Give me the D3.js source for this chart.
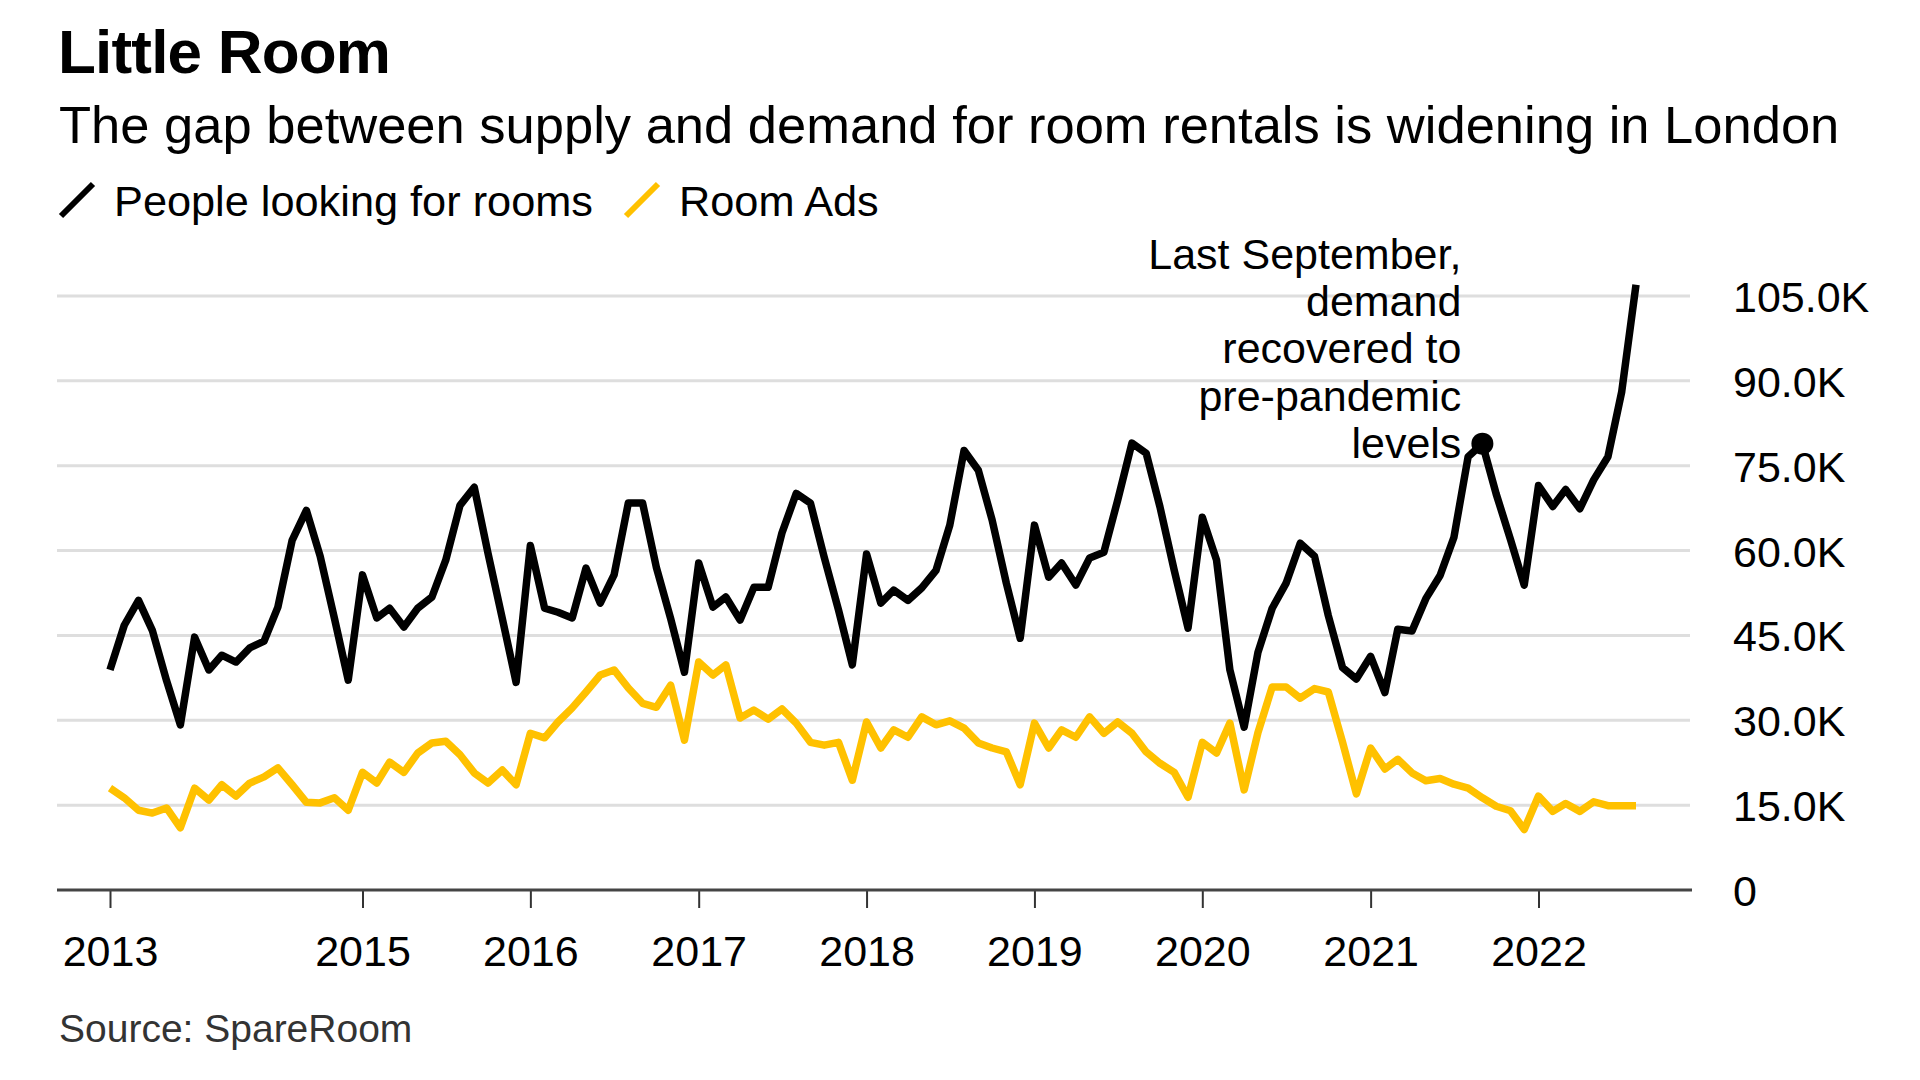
<!DOCTYPE html>
<html>
<head>
<meta charset="utf-8">
<script src="https://cdn.jsdelivr.net/npm/d3@7"></script>
<style>
  html, body { margin: 0; padding: 0; background: #fff; }
  svg { display: block; font-family: "Liberation Sans", Arial, Helvetica, sans-serif; }
</style>
</head>
<body>
<svg id="chart" width="1920" height="1080"></svg>
<script>
// ---------- DATA (monthly, Jul 2013 – Aug 2022) ----------
const startMonth = "2013-07";
const peopleLooking = [
  // 2013 Jul-Dec
  38.9, 46.8, 51.2, 45.9, 37.0, 29.2,
  // 2014
  44.7, 38.9, 41.5, 40.3, 42.8, 44.0, 50.0, 61.8, 67.1, 59.0, 48.0, 37.1,
  // 2015
  55.7, 48.1, 49.8, 46.5, 49.8, 51.8, 58.3, 68.0, 71.2, 59.5, 48.0, 36.7,
  // 2016
  60.9, 49.8, 49.1, 48.1, 56.9, 50.7, 55.7, 68.4, 68.4, 57.0, 48.0, 38.5,
  // 2017
  57.8, 50.0, 51.8, 47.7, 53.5, 53.5, 63.1, 70.1, 68.4, 58.8, 49.5, 39.8,
  // 2018
  59.4, 50.7, 53.0, 51.2, 53.4, 56.5, 64.5, 77.7, 74.2, 65.4, 54.2, 44.5,
  // 2019
  64.5, 55.3, 57.8, 53.9, 58.7, 59.7, 68.9, 79.0, 77.2, 67.7, 56.5, 46.3,
  // 2020
  65.9, 58.3, 38.9, 28.8, 42.0, 49.8, 54.2, 61.3, 59.0, 48.5, 39.3, 37.3,
  // 2021
  41.3, 34.9, 46.1, 45.8, 51.5, 55.6, 62.3, 76.6, 78.9, 70.0, 62.0, 53.9,
  // 2022 Jan-Aug
  71.5, 67.8, 70.8, 67.4, 72.5, 76.6, 88.1, 107.0
];
const roomAds = [
  // 2013 Jul-Dec
  18.0, 16.3, 14.1, 13.6, 14.5, 11.0,
  // 2014
  18.0, 15.9, 18.6, 16.6, 18.9, 20.0, 21.6, 18.6, 15.5, 15.4, 16.3, 14.1,
  // 2015
  20.8, 18.9, 22.6, 20.8, 24.2, 26.0, 26.3, 23.9, 20.7, 18.9, 21.2, 18.6,
  // 2016
  27.7, 26.9, 29.7, 32.2, 35.0, 38.0, 38.9, 35.7, 33.0, 32.3, 36.2, 26.5,
  // 2017
  40.3, 38.0, 39.8, 30.4, 31.8, 30.2, 32.0, 29.5, 26.1, 25.6, 26.1, 19.4,
  // 2018
  29.7, 25.1, 28.3, 27.0, 30.6, 29.2, 29.9, 28.6, 26.0, 25.1, 24.4, 18.6,
  // 2019
  29.5, 25.1, 28.3, 27.0, 30.6, 27.7, 29.7, 27.7, 24.4, 22.4, 20.8, 16.4,
  // 2020
  26.1, 24.2, 29.5, 17.7, 27.8, 35.9, 35.9, 33.9, 35.6, 35.0, 26.1, 17.0,
  // 2021
  25.1, 21.4, 23.1, 20.7, 19.3, 19.7, 18.7, 18.0, 16.3, 14.8, 14.0, 10.7,
  // 2022 Jan-Aug
  16.6, 13.9, 15.3, 13.9, 15.6, 14.9, 14.9, 14.9
];
const seriesNames = ["People looking for rooms", "Room Ads"];
const xTickDates = ["2013-07", "2015-01", "2016-01", "2017-01", "2018-01", "2019-01", "2020-01", "2021-01", "2022-01"];
const xTickLabels = ["2013", "2015", "2016", "2017", "2018", "2019", "2020", "2021", "2022"];
const yTickValues = [0, 15, 30, 45, 60, 75, 90, 105];
const yTickLabels = ["0", "15.0K", "30.0K", "45.0K", "60.0K", "75.0K", "90.0K", "105.0K"];
const annotationDate = "2021-09";
const annotationLines = ["Last September,", "demand", "recovered to", "pre-pandemic", "levels"];
const titleText = "Little Room";
const subtitleText = "The gap between supply and demand for room rentals is widening in London";
const sourceText = "Source: SpareRoom";

// ---------- SETUP ----------
const parseMonth = d3.timeParse("%Y-%m");
const start = parseMonth(startMonth);
const dates = peopleLooking.map((_, i) => d3.timeMonth.offset(start, i));

const svg = d3.select("#chart");
const colors = { people: "#000000", ads: "#ffc100" };

const plotLeft = 57, plotRight = 1690;
const x = d3.scaleTime()
  .domain([dates[0], dates[dates.length - 1]])
  .range([110, 1636]);
const y = d3.scaleLinear().domain([0, 105]).range([890, 296]);

// Titles
svg.append("text").attr("x", 58).attr("y", 73)
  .attr("font-size", 62).attr("font-weight", 700).attr("letter-spacing", -0.8)
  .attr("fill", "#000").text(titleText);
svg.append("text").attr("x", 59).attr("y", 143)
  .attr("font-size", 52.5).attr("fill", "#000").text(subtitleText);

// Legend
const legend = svg.append("g");
const legendItems = [
  { name: seriesNames[0], color: colors.people, x: 61 },
  { name: seriesNames[1], color: colors.ads, x: 626 }
];
legendItems.forEach(it => {
  legend.append("line")
    .attr("x1", it.x).attr("y1", 216).attr("x2", it.x + 32).attr("y2", 184)
    .attr("stroke", it.color).attr("stroke-width", 6);
  legend.append("text").attr("x", it.x + 53).attr("y", 216)
    .attr("font-size", 43.3).attr("fill", "#000").text(it.name);
});

// Gridlines
const grid = svg.append("g");
grid.selectAll("line").data(yTickValues.filter(v => v > 0)).join("line")
  .attr("x1", plotLeft).attr("x2", plotRight)
  .attr("y1", d => y(d)).attr("y2", d => y(d))
  .attr("stroke", "#dedede").attr("stroke-width", 3);

// Y axis labels (right)
const yAxis = d3.axisRight(y).tickValues(yTickValues).tickSize(0)
  .tickFormat((d, i) => yTickLabels[i]);
const yg = svg.append("g").attr("transform", `translate(1733,0)`).call(yAxis);
yg.select(".domain").remove();
yg.selectAll("text").attr("x", 0).attr("font-size", 43).attr("fill", "#000")
  .attr("font-family", '"Liberation Sans", Arial, sans-serif').attr("dy", "0.36em");

// X axis
const xAxis = d3.axisBottom(x).tickValues(xTickDates.map(parseMonth)).tickSize(18)
  .tickFormat((d, i) => xTickLabels[i]);
const xg = svg.append("g").attr("transform", `translate(0,890)`).call(xAxis);
xg.select(".domain").remove();
xg.selectAll(".tick line").attr("stroke", "#333").attr("stroke-width", 2);
xg.selectAll("text").attr("y", 76).attr("dy", 0).attr("font-size", 43).attr("fill", "#000")
  .attr("font-family", '"Liberation Sans", Arial, sans-serif');
svg.append("line").attr("x1", plotLeft).attr("x2", plotRight + 2)
  .attr("y1", 890).attr("y2", 890).attr("stroke", "#444").attr("stroke-width", 3);

// Lines
const line = d3.line().x((d, i) => x(dates[i])).y(d => y(d));
svg.append("path").datum(roomAds).attr("d", line)
  .attr("fill", "none").attr("stroke", colors.ads).attr("stroke-width", 7.5)
  .attr("stroke-linejoin", "round");
svg.append("path").datum(peopleLooking).attr("d", line)
  .attr("fill", "none").attr("stroke", colors.people).attr("stroke-width", 7.5)
  .attr("stroke-linejoin", "round");

// Annotation
const annIdx = dates.findIndex(d => +d === +parseMonth(annotationDate));
const ax = x(dates[annIdx]), ay = y(peopleLooking[annIdx]);
svg.append("circle").attr("cx", ax).attr("cy", ay).attr("r", 11).attr("fill", "#000");
const ann = svg.append("text").attr("text-anchor", "end").attr("font-size", 43).attr("fill", "#000");
annotationLines.forEach((t, i) => {
  ann.append("tspan").attr("x", ax - 21).attr("y", ay - 175 + i * 47.3).text(t);
});

// Source
svg.append("text").attr("x", 59).attr("y", 1042).attr("font-size", 39)
  .attr("fill", "#333").text(sourceText);
</script>
</body>
</html>
